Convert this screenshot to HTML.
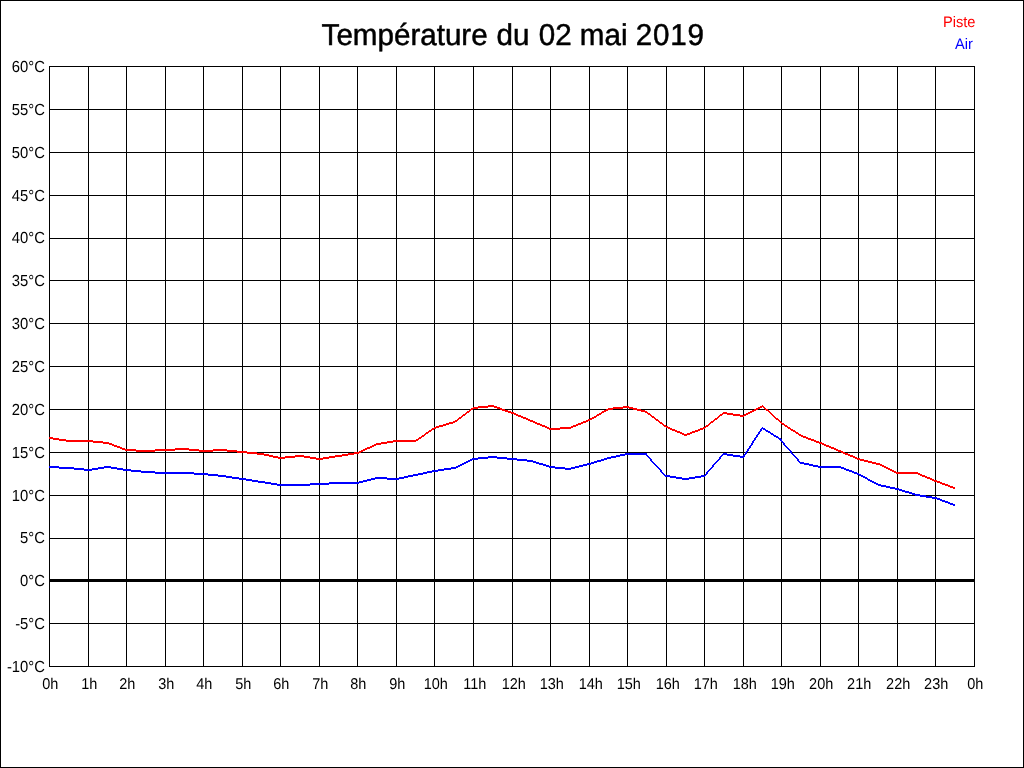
<!DOCTYPE html>
<html lang="fr"><head><meta charset="utf-8"><title>Température du 02 mai 2019</title>
<style>html,body{margin:0;padding:0;background:#fff;overflow:hidden}svg{display:block;will-change:transform}text{font-family:"Liberation Sans",Arial,sans-serif;text-rendering:geometricPrecision}</style></head><body>
<svg width="1024" height="768" viewBox="0 0 1024 768">
<rect x="0" y="0" width="1024" height="768" fill="#fff"/>
<g shape-rendering="crispEdges" fill="#000">
<rect x="0" y="0" width="1024" height="1"/><rect x="0" y="767" width="1024" height="1"/><rect x="0" y="0" width="1" height="768"/><rect x="1023" y="0" width="1" height="768"/>
<rect x="49" y="66" width="1" height="601"/>
<rect x="88" y="66" width="1" height="601"/>
<rect x="126" y="66" width="1" height="601"/>
<rect x="165" y="66" width="1" height="601"/>
<rect x="203" y="66" width="1" height="601"/>
<rect x="242" y="66" width="1" height="601"/>
<rect x="280" y="66" width="1" height="601"/>
<rect x="319" y="66" width="1" height="601"/>
<rect x="357" y="66" width="1" height="601"/>
<rect x="396" y="66" width="1" height="601"/>
<rect x="434" y="66" width="1" height="601"/>
<rect x="473" y="66" width="1" height="601"/>
<rect x="512" y="66" width="1" height="601"/>
<rect x="550" y="66" width="1" height="601"/>
<rect x="589" y="66" width="1" height="601"/>
<rect x="627" y="66" width="1" height="601"/>
<rect x="666" y="66" width="1" height="601"/>
<rect x="704" y="66" width="1" height="601"/>
<rect x="743" y="66" width="1" height="601"/>
<rect x="781" y="66" width="1" height="601"/>
<rect x="820" y="66" width="1" height="601"/>
<rect x="858" y="66" width="1" height="601"/>
<rect x="897" y="66" width="1" height="601"/>
<rect x="935" y="66" width="1" height="601"/>
<rect x="974" y="66" width="1" height="601"/>
<rect x="49" y="66" width="926" height="1"/>
<rect x="49" y="109" width="926" height="1"/>
<rect x="49" y="152" width="926" height="1"/>
<rect x="49" y="195" width="926" height="1"/>
<rect x="49" y="238" width="926" height="1"/>
<rect x="49" y="280" width="926" height="1"/>
<rect x="49" y="323" width="926" height="1"/>
<rect x="49" y="366" width="926" height="1"/>
<rect x="49" y="409" width="926" height="1"/>
<rect x="49" y="452" width="926" height="1"/>
<rect x="49" y="495" width="926" height="1"/>
<rect x="49" y="538" width="926" height="1"/>
<rect x="49" y="579" width="926" height="3"/>
<rect x="49" y="623" width="926" height="1"/>
<rect x="49" y="666" width="926" height="1"/>
</g>
<path shape-rendering="crispEdges" fill="#ff0000" d="M49 437h4v1h-4zM49 438h10v1h-10zM53 439h13v1h-13zM59 440h34v1h-34zM66 441h37v1h-37zM93 442h16v1h-16zM103 443h9v1h-9zM109 444h5v1h-5zM112 445h5v1h-5zM114 446h6v1h-6zM117 447h5v1h-5zM120 448h5v1h-5zM122 449h14v1h-14zM125 450h50v1h-50zM136 451h19v1h-19zM155 449h44v1h-44zM175 448h14v1h-14zM189 450h48v1h-48zM199 451h14v1h-14zM213 449h14v1h-14zM227 451h20v1h-20zM237 452h20v1h-20zM247 453h17v1h-17zM257 454h12v1h-12zM264 455h9v1h-9zM269 456h9v1h-9zM273 457h22v1h-22zM278 458h7v1h-7zM285 456h25v1h-25zM295 455h9v1h-9zM304 457h12v1h-12zM310 458h19v1h-19zM316 459h7v1h-7zM323 457h12v1h-12zM329 456h13v1h-13zM335 455h13v1h-13zM342 454h12v1h-12zM348 453h11v1h-11zM354 452h7v1h-7zM359 451h4v1h-4zM361 450h4v1h-4zM363 449h4v1h-4zM365 448h5v1h-5zM367 447h5v1h-5zM370 446h4v1h-4zM372 445h4v1h-4zM374 444h7v1h-7zM376 443h11v1h-11zM381 442h12v1h-12zM387 441h29v1h-29zM393 440h25v1h-25zM416 439h3v1h-3zM418 438h3v1h-3zM419 437h3v1h-3zM421 436h3v1h-3zM422 435h3v1h-3zM424 434h2v1h-2zM425 433h3v1h-3zM426 432h3v1h-3zM428 431h3v1h-3zM429 430h3v1h-3zM431 429h3v1h-3zM432 428h4v1h-4zM434 427h5v1h-5zM436 426h7v1h-7zM439 425h7v1h-7zM443 424h6v1h-6zM446 423h7v1h-7zM449 422h6v1h-6zM453 421h4v1h-4zM455 420h3v1h-3zM457 419h2v1h-2zM458 418h3v1h-3zM459 417h3v1h-3zM461 416h2v1h-2zM462 415h3v1h-3zM463 414h3v1h-3zM465 413h2v1h-2zM466 412h3v1h-3zM467 411h3v1h-3zM469 410h2v1h-2zM470 409h3v1h-3zM471 408h7v1h-7zM473 407h15v1h-15zM478 406h19v1h-19zM488 405h6v1h-6zM494 407h6v1h-6zM497 408h5v1h-5zM500 409h5v1h-5zM502 410h6v1h-6zM505 411h6v1h-6zM508 412h6v1h-6zM511 413h5v1h-5zM514 414h4v1h-4zM516 415h5v1h-5zM518 416h5v1h-5zM521 417h5v1h-5zM523 418h5v1h-5zM526 419h4v1h-4zM528 420h5v1h-5zM530 421h5v1h-5zM533 422h4v1h-4zM535 423h5v1h-5zM537 424h5v1h-5zM540 425h5v1h-5zM542 426h5v1h-5zM545 427h4v1h-4zM547 428h24v1h-24zM549 429h11v1h-11zM560 427h13v1h-13zM571 426h5v1h-5zM573 425h5v1h-5zM576 424h5v1h-5zM578 423h5v1h-5zM581 422h5v1h-5zM583 421h5v1h-5zM586 420h4v1h-4zM588 419h4v1h-4zM590 418h4v1h-4zM592 417h4v1h-4zM594 416h3v1h-3zM596 415h3v1h-3zM597 414h4v1h-4zM599 413h3v1h-3zM601 412h3v1h-3zM602 411h4v1h-4zM604 410h4v1h-4zM606 409h7v1h-7zM608 408h15v1h-15zM613 407h20v1h-20zM623 406h6v1h-6zM629 408h8v1h-8zM633 409h8v1h-8zM637 410h8v1h-8zM641 411h6v1h-6zM645 412h3v1h-3zM647 413h3v1h-3zM648 414h3v1h-3zM650 415h2v1h-2zM651 416h3v1h-3zM652 417h3v1h-3zM654 418h2v1h-2zM655 419h3v1h-3zM656 420h3v1h-3zM658 421h2v1h-2zM659 422h3v1h-3zM660 423h3v1h-3zM662 424h2v1h-2zM663 425h3v1h-3zM664 426h4v1h-4zM666 427h4v1h-4zM668 428h4v1h-4zM670 429h5v1h-5zM672 430h5v1h-5zM675 431h5v1h-5zM677 432h5v1h-5zM680 433h4v1h-4zM682 434h8v1h-8zM684 435h3v1h-3zM687 433h5v1h-5zM690 432h5v1h-5zM692 431h6v1h-6zM695 430h5v1h-5zM698 429h5v1h-5zM700 428h5v1h-5zM703 427h3v1h-3zM705 426h3v1h-3zM706 425h3v1h-3zM708 424h2v1h-2zM709 423h2v1h-2zM710 422h3v1h-3zM711 421h3v1h-3zM713 420h2v1h-2zM714 419h3v1h-3zM715 418h3v1h-3zM717 417h2v1h-2zM718 416h2v1h-2zM719 415h3v1h-3zM720 414h3v1h-3zM722 413h11v1h-11zM723 412h4v1h-4zM727 414h13v1h-13zM733 415h13v1h-13zM740 416h4v1h-4zM744 414h4v1h-4zM746 413h4v1h-4zM748 412h4v1h-4zM750 411h4v1h-4zM752 410h4v1h-4zM754 409h4v1h-4zM756 408h4v1h-4zM758 407h4v1h-4zM760 406h4v1h-4zM762 405h1v1h-1zM763 407h2v1h-2zM764 408h2v1h-2zM765 409h3v1h-3zM766 410h3v1h-3zM768 411h2v1h-2zM769 412h2v1h-2zM770 413h2v1h-2zM771 414h2v1h-2zM772 415h2v1h-2zM773 416h2v1h-2zM774 417h2v1h-2zM775 418h3v1h-3zM776 419h3v1h-3zM778 420h2v1h-2zM779 421h2v1h-2zM780 422h2v1h-2zM781 423h3v1h-3zM782 424h3v1h-3zM784 425h3v1h-3zM785 426h3v1h-3zM787 427h3v1h-3zM788 428h3v1h-3zM790 429h3v1h-3zM791 430h4v1h-4zM793 431h3v1h-3zM795 432h3v1h-3zM796 433h3v1h-3zM798 434h3v1h-3zM799 435h4v1h-4zM801 436h5v1h-5zM803 437h5v1h-5zM806 438h5v1h-5zM808 439h6v1h-6zM811 440h5v1h-5zM814 441h5v1h-5zM816 442h6v1h-6zM819 443h5v1h-5zM822 444h4v1h-4zM824 445h5v1h-5zM826 446h5v1h-5zM829 447h5v1h-5zM831 448h5v1h-5zM834 449h4v1h-4zM836 450h5v1h-5zM838 451h5v1h-5zM841 452h4v1h-4zM843 453h5v1h-5zM845 454h5v1h-5zM848 455h5v1h-5zM850 456h5v1h-5zM853 457h4v1h-4zM855 458h5v1h-5zM857 459h7v1h-7zM860 460h8v1h-8zM864 461h8v1h-8zM868 462h8v1h-8zM872 463h8v1h-8zM876 464h6v1h-6zM880 465h4v1h-4zM882 466h4v1h-4zM884 467h4v1h-4zM886 468h4v1h-4zM888 469h4v1h-4zM890 470h4v1h-4zM892 471h4v1h-4zM894 472h24v1h-24zM896 473h24v1h-24zM918 474h4v1h-4zM920 475h5v1h-5zM922 476h5v1h-5zM925 477h5v1h-5zM927 478h5v1h-5zM930 479h4v1h-4zM932 480h5v1h-5zM934 481h6v1h-6zM937 482h5v1h-5zM940 483h5v1h-5zM942 484h6v1h-6zM945 485h5v1h-5zM948 486h5v1h-5zM950 487h5v1h-5zM953 488h2v1h-2z"/>
<path shape-rendering="crispEdges" fill="#0000ff" d="M49 466h10v1h-10zM49 467h25v1h-25zM59 468h25v1h-25zM74 469h24v1h-24zM84 470h8v1h-8zM92 468h12v1h-12zM98 467h19v1h-19zM104 466h7v1h-7zM111 468h12v1h-12zM117 469h14v1h-14zM123 470h18v1h-18zM131 471h24v1h-24zM141 472h53v1h-53zM155 473h53v1h-53zM194 474h24v1h-24zM208 475h18v1h-18zM218 476h14v1h-14zM226 477h13v1h-13zM232 478h14v1h-14zM239 479h13v1h-13zM246 480h12v1h-12zM252 481h13v1h-13zM258 482h13v1h-13zM265 483h12v1h-12zM271 484h58v1h-58zM277 485h33v1h-33zM310 483h49v1h-49zM329 482h34v1h-34zM359 481h8v1h-8zM363 480h8v1h-8zM367 479h8v1h-8zM371 478h33v1h-33zM375 477h12v1h-12zM387 479h12v1h-12zM399 477h9v1h-9zM404 476h9v1h-9zM408 475h10v1h-10zM413 474h10v1h-10zM418 473h9v1h-9zM423 472h9v1h-9zM427 471h11v1h-11zM432 470h12v1h-12zM438 469h13v1h-13zM444 468h12v1h-12zM451 467h7v1h-7zM456 466h4v1h-4zM458 465h4v1h-4zM460 464h4v1h-4zM462 463h4v1h-4zM464 462h4v1h-4zM466 461h4v1h-4zM468 460h4v1h-4zM470 459h8v1h-8zM472 458h16v1h-16zM478 457h29v1h-29zM488 456h9v1h-9zM497 458h20v1h-20zM507 459h20v1h-20zM517 460h16v1h-16zM527 461h9v1h-9zM533 462h6v1h-6zM536 463h7v1h-7zM539 464h7v1h-7zM543 465h6v1h-6zM546 466h9v1h-9zM549 467h16v1h-16zM555 468h20v1h-20zM565 469h6v1h-6zM571 467h8v1h-8zM575 466h8v1h-8zM579 465h8v1h-8zM583 464h8v1h-8zM587 463h7v1h-7zM591 462h6v1h-6zM594 461h7v1h-7zM597 460h7v1h-7zM601 459h6v1h-6zM604 458h7v1h-7zM607 457h9v1h-9zM611 456h9v1h-9zM616 455h9v1h-9zM620 454h27v1h-27zM625 453h22v1h-22zM646 455h2v1h-2zM647 456h2v1h-2zM648 457h2v1h-2zM649 458h2v1h-2zM650 459h2v2h-2zM651 461h2v1h-2zM652 462h2v1h-2zM653 463h2v1h-2zM654 464h2v1h-2zM655 465h2v1h-2zM656 466h2v1h-2zM657 467h2v1h-2zM658 468h2v1h-2zM659 469h2v1h-2zM660 470h2v2h-2zM661 472h2v1h-2zM662 473h2v1h-2zM663 474h2v1h-2zM664 475h6v1h-6zM665 476h11v1h-11zM670 477h12v1h-12zM676 478h19v1h-19zM682 479h7v1h-7zM689 477h12v1h-12zM695 476h10v1h-10zM701 475h5v1h-5zM705 474h2v1h-2zM706 472h2v2h-2zM707 471h2v1h-2zM708 470h2v1h-2zM709 469h2v1h-2zM710 468h2v1h-2zM711 467h2v1h-2zM712 465h2v2h-2zM713 464h2v1h-2zM714 463h2v1h-2zM715 462h2v1h-2zM716 461h2v1h-2zM717 460h2v1h-2zM718 459h2v1h-2zM719 457h2v2h-2zM720 456h2v1h-2zM721 455h2v1h-2zM722 454h11v1h-11zM723 453h4v1h-4zM727 455h13v1h-13zM733 456h12v1h-12zM740 457h4v1h-4zM743 455h2v1h-2zM744 454h2v1h-2zM745 452h2v2h-2zM746 451h2v1h-2zM747 449h2v2h-2zM748 448h2v1h-2zM749 446h2v2h-2zM750 445h2v1h-2zM751 443h2v2h-2zM752 441h2v2h-2zM753 440h2v1h-2zM754 438h2v2h-2zM755 437h2v1h-2zM756 435h2v2h-2zM757 434h2v1h-2zM758 432h2v2h-2zM759 431h2v1h-2zM760 429h2v2h-2zM761 428h4v1h-4zM762 427h1v1h-1zM763 429h3v1h-3zM765 430h3v1h-3zM766 431h4v1h-4zM768 432h3v1h-3zM770 433h3v1h-3zM771 434h3v1h-3zM773 435h3v1h-3zM774 436h4v1h-4zM776 437h3v1h-3zM778 438h3v1h-3zM779 439h3v1h-3zM780 440h2v1h-2zM781 441h2v1h-2zM782 442h2v1h-2zM783 443h2v2h-2zM784 445h2v1h-2zM785 446h2v1h-2zM786 447h2v1h-2zM787 448h2v1h-2zM788 449h2v1h-2zM789 450h2v1h-2zM790 451h2v2h-2zM791 453h2v1h-2zM792 454h2v1h-2zM793 455h2v1h-2zM794 456h2v1h-2zM795 457h2v1h-2zM796 458h2v1h-2zM797 459h2v2h-2zM798 461h2v1h-2zM799 462h5v1h-5zM800 463h9v1h-9zM804 464h9v1h-9zM809 465h9v1h-9zM813 466h28v1h-28zM818 467h26v1h-26zM841 468h5v1h-5zM844 469h5v1h-5zM846 470h6v1h-6zM849 471h5v1h-5zM852 472h5v1h-5zM854 473h5v1h-5zM857 474h4v1h-4zM859 475h4v1h-4zM861 476h4v1h-4zM863 477h4v1h-4zM865 478h3v1h-3zM867 479h3v1h-3zM868 480h4v1h-4zM870 481h4v1h-4zM872 482h4v1h-4zM874 483h4v1h-4zM876 484h5v1h-5zM878 485h8v1h-8zM881 486h9v1h-9zM886 487h9v1h-9zM890 488h9v1h-9zM895 489h7v1h-7zM899 490h6v1h-6zM902 491h7v1h-7zM905 492h7v1h-7zM909 493h6v1h-6zM912 494h8v1h-8zM915 495h11v1h-11zM920 496h12v1h-12zM926 497h11v1h-11zM932 498h8v1h-8zM937 499h5v1h-5zM940 500h5v1h-5zM942 501h6v1h-6zM945 502h5v1h-5zM948 503h5v1h-5zM950 504h5v1h-5zM953 505h2v1h-2z"/>
<g>
<text transform="translate(0,45.4) scale(0.98,1)" font-size="30.2" fill="#000" stroke="#000" stroke-width="0.5"><tspan x="328.16">Température </tspan><tspan x="506.73">du </tspan><tspan x="549.80">02 </tspan><tspan x="591.63">mai </tspan><tspan x="648.67" letter-spacing="0.8">2019</tspan></text>
<text transform="translate(975.5,26.9) scale(.957,1)" font-size="15.3" text-anchor="end" fill="#ff0000">Piste</text>
<text transform="translate(973,49) scale(.957,1)" font-size="15.3" text-anchor="end" fill="#0000ff">Air</text>
<text transform="translate(44.9,71.8) scale(.925,1)" font-size="16" text-anchor="end" fill="#000">60°C</text>
<text transform="translate(44.9,114.8) scale(.925,1)" font-size="16" text-anchor="end" fill="#000">55°C</text>
<text transform="translate(44.9,157.8) scale(.925,1)" font-size="16" text-anchor="end" fill="#000">50°C</text>
<text transform="translate(44.9,200.8) scale(.925,1)" font-size="16" text-anchor="end" fill="#000">45°C</text>
<text transform="translate(44.9,242.8) scale(.925,1)" font-size="16" text-anchor="end" fill="#000">40°C</text>
<text transform="translate(44.9,285.8) scale(.925,1)" font-size="16" text-anchor="end" fill="#000">35°C</text>
<text transform="translate(44.9,328.8) scale(.925,1)" font-size="16" text-anchor="end" fill="#000">30°C</text>
<text transform="translate(44.9,371.8) scale(.925,1)" font-size="16" text-anchor="end" fill="#000">25°C</text>
<text transform="translate(44.9,414.8) scale(.925,1)" font-size="16" text-anchor="end" fill="#000">20°C</text>
<text transform="translate(44.9,457.8) scale(.925,1)" font-size="16" text-anchor="end" fill="#000">15°C</text>
<text transform="translate(44.9,500.8) scale(.925,1)" font-size="16" text-anchor="end" fill="#000">10°C</text>
<text transform="translate(44.9,542.8) scale(.925,1)" font-size="16" text-anchor="end" fill="#000">5°C</text>
<text transform="translate(44.9,585.8) scale(.925,1)" font-size="16" text-anchor="end" fill="#000">0°C</text>
<text transform="translate(44.9,628.8) scale(.925,1)" font-size="16" text-anchor="end" fill="#000">-5°C</text>
<text transform="translate(44.9,671.8) scale(.925,1)" font-size="16" text-anchor="end" fill="#000">-10°C</text>
<text transform="translate(50.2,688.8) scale(.93,1)" font-size="15.6" text-anchor="middle" fill="#000">0h</text>
<text transform="translate(89.2,688.8) scale(.93,1)" font-size="15.6" text-anchor="middle" fill="#000">1h</text>
<text transform="translate(127.2,688.8) scale(.93,1)" font-size="15.6" text-anchor="middle" fill="#000">2h</text>
<text transform="translate(166.2,688.8) scale(.93,1)" font-size="15.6" text-anchor="middle" fill="#000">3h</text>
<text transform="translate(204.2,688.8) scale(.93,1)" font-size="15.6" text-anchor="middle" fill="#000">4h</text>
<text transform="translate(243.2,688.8) scale(.93,1)" font-size="15.6" text-anchor="middle" fill="#000">5h</text>
<text transform="translate(281.2,688.8) scale(.93,1)" font-size="15.6" text-anchor="middle" fill="#000">6h</text>
<text transform="translate(320.2,688.8) scale(.93,1)" font-size="15.6" text-anchor="middle" fill="#000">7h</text>
<text transform="translate(358.2,688.8) scale(.93,1)" font-size="15.6" text-anchor="middle" fill="#000">8h</text>
<text transform="translate(397.2,688.8) scale(.93,1)" font-size="15.6" text-anchor="middle" fill="#000">9h</text>
<text transform="translate(435.8,688.8) scale(.93,1)" font-size="15.6" text-anchor="middle" fill="#000">10h</text>
<text transform="translate(474.8,688.8) scale(.93,1)" font-size="15.6" text-anchor="middle" fill="#000">11h</text>
<text transform="translate(513.8,688.8) scale(.93,1)" font-size="15.6" text-anchor="middle" fill="#000">12h</text>
<text transform="translate(551.8,688.8) scale(.93,1)" font-size="15.6" text-anchor="middle" fill="#000">13h</text>
<text transform="translate(590.8,688.8) scale(.93,1)" font-size="15.6" text-anchor="middle" fill="#000">14h</text>
<text transform="translate(628.8,688.8) scale(.93,1)" font-size="15.6" text-anchor="middle" fill="#000">15h</text>
<text transform="translate(667.8,688.8) scale(.93,1)" font-size="15.6" text-anchor="middle" fill="#000">16h</text>
<text transform="translate(705.8,688.8) scale(.93,1)" font-size="15.6" text-anchor="middle" fill="#000">17h</text>
<text transform="translate(744.8,688.8) scale(.93,1)" font-size="15.6" text-anchor="middle" fill="#000">18h</text>
<text transform="translate(782.8,688.8) scale(.93,1)" font-size="15.6" text-anchor="middle" fill="#000">19h</text>
<text transform="translate(821.2,688.8) scale(.93,1)" font-size="15.6" text-anchor="middle" fill="#000">20h</text>
<text transform="translate(859.2,688.8) scale(.93,1)" font-size="15.6" text-anchor="middle" fill="#000">21h</text>
<text transform="translate(898.2,688.8) scale(.93,1)" font-size="15.6" text-anchor="middle" fill="#000">22h</text>
<text transform="translate(936.2,688.8) scale(.93,1)" font-size="15.6" text-anchor="middle" fill="#000">23h</text>
<text transform="translate(975.2,688.8) scale(.93,1)" font-size="15.6" text-anchor="middle" fill="#000">0h</text>
</g>
</svg></body></html>
